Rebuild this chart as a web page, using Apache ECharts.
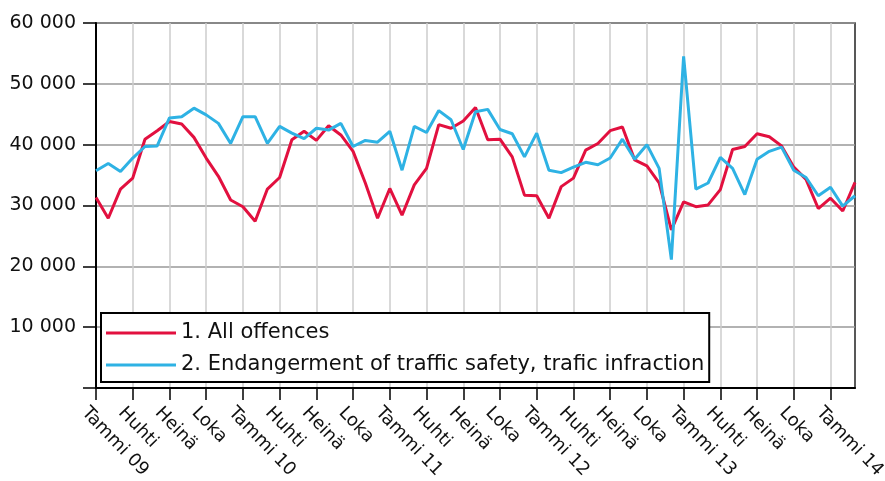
<!DOCTYPE html>
<html>
<head>
<meta charset="utf-8">
<script src="https://cdn.jsdelivr.net/npm/echarts@6/dist/echarts.min.js"></script>
<style>html,body{margin:0;padding:0;background:#fff;}#chart{width:885px;height:481px;}</style>
</head>
<body>
<div id="chart"></div>
<script>
// Months Jan 2009 .. Mar 2014
var categories = [];
for (var y = 2009; y <= 2014; y++) {
  for (var m = 1; m <= 12; m++) {
    if (y === 2014 && m > 3) break;
    categories.push(y + 'M' + (m < 10 ? '0' + m : m));
  }
}
var quarterLabels = ['Tammi 09','Huhti','Heinä','Loka','Tammi 10','Huhti','Heinä','Loka',
  'Tammi 11','Huhti','Heinä','Loka','Tammi 12','Huhti','Heinä','Loka',
  'Tammi 13','Huhti','Heinä','Loka','Tammi 14'];
var yTicks = [0, 10000, 20000, 30000, 40000, 50000, 60000];

var allOffences = [31300, 27900, 32700, 34500, 40900, 42300, 43800, 43400, 41200, 37800,
  34800, 30900, 29800, 27400, 32700, 34600, 40800, 42200, 40700, 43100,
  41600, 38900, 33700, 27900, 32800, 28400, 33400, 36100, 43300, 42700,
  43900, 46100, 40800, 40900, 38000, 31700, 31600, 27900, 33100, 34500,
  39100, 40200, 42300, 42900, 37500, 36500, 33700, 26000, 30600, 29800,
  30100, 32600, 39200, 39700, 41800, 41300, 39800, 36300, 34300, 29500,
  31200, 29100, 33800];
var trafficSafety = [35700, 36900, 35600, 37800, 39700, 39800, 44400, 44600, 46000, 44900,
  43500, 40200, 44600, 44600, 40200, 43000, 41900, 41000, 42700, 42400,
  43500, 39700, 40700, 40400, 42200, 35800, 43000, 42000, 45600, 44100,
  39200, 45400, 45800, 42500, 41800, 38000, 41900, 35800, 35400, 36300,
  37100, 36700, 37800, 40900, 37600, 40000, 36100, 21100, 54500, 32700,
  33700, 37900, 36100, 31800, 37600, 38900, 39600, 35800, 34600, 31600,
  33000, 29900, 31600];
var seriesNames = ['1. All offences', '2. Endangerment of traffic safety, trafic infraction'];

var FONT = 'DejaVu Sans';
var chart = echarts.init(document.getElementById('chart'), null, {renderer: 'canvas'});
chart.setOption({
  animation: false,
  backgroundColor: '#fff',
  grid: {left: 96, right: 30, top: 23, bottom: 93, show: true, borderColor: '#222', borderWidth: 1.5,
         containLabel: false, outerBoundsMode: 'none'},
  legend: {
    orient: 'vertical', left: 101, top: 313,
    backgroundColor: '#fff', borderColor: '#000', borderWidth: 2,
    padding: [8, 5, 5, 5],
    itemWidth: 70, itemHeight: 3, itemGap: 8, itemTextGap: 7,
    icon: 'rect',
    textStyle: {fontFamily: FONT, fontSize: 21, color: '#111', lineHeight: 24},
    data: seriesNames
  },
  xAxis: {
    type: 'category', data: categories, boundaryGap: false,
    axisLine: {lineStyle: {color: '#000', width: 2}},
    axisTick: {show: true, interval: 2, length: 12, lineStyle: {color: '#000', width: 1.5}},
    splitLine: {show: true, interval: 2, lineStyle: {color: '#ccc', width: 1.5}},
    axisLabel: {
      interval: 2, rotate: -46, margin: 11, align: 'left', verticalAlign: 'top', padding: [7, 0, 0, 0],
      fontFamily: FONT, fontSize: 18, color: '#111',
      formatter: function (v, i) { return i % 3 === 0 ? quarterLabels[i / 3] : ''; }
    }
  },
  yAxis: {
    type: 'value', min: yTicks[0], max: yTicks[yTicks.length - 1], interval: 10000,
    axisLine: {show: true, lineStyle: {color: '#000', width: 2}},
    axisTick: {show: true, length: 13, lineStyle: {color: '#000', width: 1.5}},
    splitLine: {show: true, lineStyle: {color: '#999', width: 1.5}},
    axisLabel: {
      margin: 20, fontFamily: FONT, fontSize: 19, color: '#111',
      formatter: function (v) { return v === 0 ? '' : String(v).replace(/\B(?=(\d{3})+(?!\d))/g, ' '); }
    }
  },
  series: [
    {name: seriesNames[0], type: 'line', data: allOffences, symbol: 'none',
     lineStyle: {color: '#e2103f', width: 3}, itemStyle: {color: '#e2103f'}},
    {name: seriesNames[1], type: 'line', data: trafficSafety, symbol: 'none',
     lineStyle: {color: '#2eb2e4', width: 3}, itemStyle: {color: '#2eb2e4'}}
  ]
});
</script>
</body>
</html>
